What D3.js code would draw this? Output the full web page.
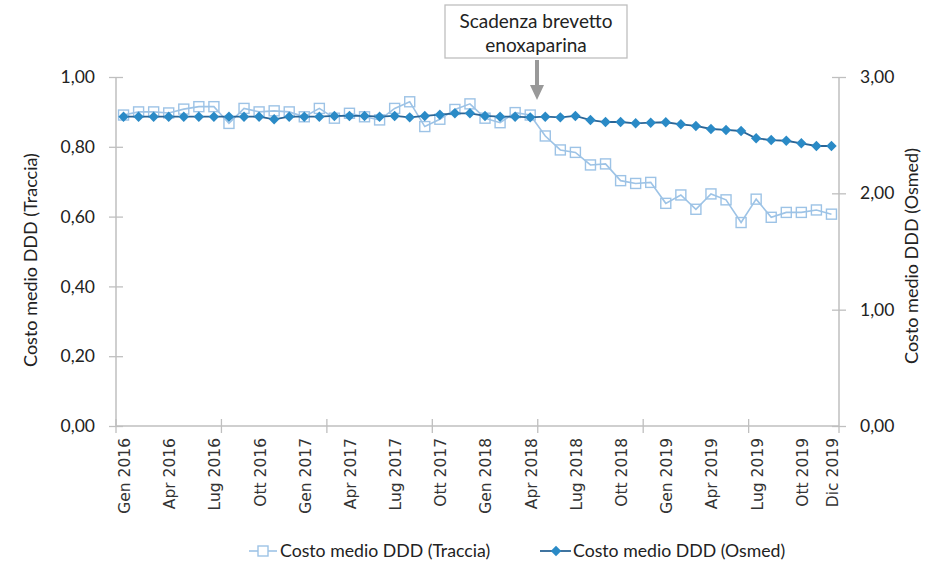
<!DOCTYPE html>
<html>
<head>
<meta charset="utf-8">
<script src="https://cdn.jsdelivr.net/npm/d3@7"></script>
<style>
body{margin:0;background:#fff;}
text{font-family:Lato,"Open Sans",sans-serif;fill:#222;}
</style>
</head>
<body>
<script>
var W=932, H=564;
var mesi=["Gen","Feb","Mar","Apr","Mag","Giu","Lug","Ago","Set","Ott","Nov","Dic"];
var anni=[2016,2017,2018,2019];
var months=[];
anni.forEach(function(a){ mesi.forEach(function(m){ months.push(m+" "+a); }); });
var labelIdx=[0,3,6,9,12,15,18,21,24,27,30,33,36,39,42,45,47];

// costo medio DDD, asse sinistro
var traccia=[0.891,0.900,0.900,0.897,0.908,0.915,0.915,0.867,0.910,0.900,0.903,0.900,
             0.886,0.910,0.882,0.896,0.886,0.877,0.910,0.929,0.858,0.879,0.907,0.923,
             0.882,0.869,0.898,0.891,0.831,0.791,0.784,0.748,0.751,0.703,0.695,0.698,
             0.638,0.662,0.621,0.665,0.648,0.583,0.650,0.598,0.612,0.612,0.619,0.607];
// costo medio DDD, asse destro
var osmed=[2.659,2.659,2.659,2.659,2.659,2.659,2.659,2.659,2.659,2.659,2.636,2.659,
           2.659,2.659,2.665,2.665,2.665,2.659,2.665,2.653,2.665,2.676,2.688,2.688,
           2.665,2.659,2.659,2.653,2.659,2.653,2.665,2.630,2.613,2.613,2.602,2.607,
           2.611,2.593,2.579,2.553,2.545,2.536,2.473,2.458,2.452,2.430,2.407,2.407];
var leftTicks=[0,0.2,0.4,0.6,0.8,1.0];
var rightTicks=[0,1,2,3];

var svg=d3.select("body").append("svg").attr("width",W).attr("height",H);
var x0=116, x1=839, yTop=77, yBot=426;
var x=d3.scaleBand().domain(months).range([x0,x1]).padding(0);
var yL=d3.scaleLinear().domain([0,1]).range([yBot,yTop]);
var yR=d3.scaleLinear().domain([0,3]).range([yBot,yTop]);
var fmt=function(v){ return d3.format(".2f")(v).replace(".",","); };
var axisCol="#bfbfbf";

// asse sinistro
var gl=svg.append("g").attr("transform","translate("+x0+",0)")
  .call(d3.axisLeft(yL).tickValues(leftTicks).tickFormat(fmt).tickSize(7).tickPadding(14));
gl.selectAll(".tick line").attr("x2",-7).attr("x1",7);
// asse destro
var gr=svg.append("g").attr("transform","translate("+x1+",0)")
  .call(d3.axisRight(yR).tickValues(rightTicks).tickFormat(fmt).tickSize(7).tickPadding(14));
gr.selectAll(".tick line").attr("x1",-7).attr("x2",7);
[gl,gr].forEach(function(g){
  g.select(".domain").attr("stroke",axisCol).attr("stroke-width",1.5).attr("d","M0,"+yTop+"V"+yBot);
  g.selectAll(".tick line").attr("stroke",axisCol).attr("stroke-width",1.3);
  g.selectAll(".tick text").style("font-family","Lato").attr("font-size",17.5).attr("fill","#222");
});

// asse x
svg.append("line").attr("x1",x0).attr("x2",x1).attr("y1",yBot).attr("y2",yBot)
  .attr("stroke",axisCol).attr("stroke-width",1.5);
var tickIdx=d3.range(0,48,7);
svg.selectAll(".xt").data(tickIdx).enter().append("line")
  .attr("x1",function(i){return x(months[i]);}).attr("x2",function(i){return x(months[i]);})
  .attr("y1",yBot-7).attr("y2",yBot+7).attr("stroke",axisCol).attr("stroke-width",1.3);
svg.append("line").attr("x1",x1).attr("x2",x1).attr("y1",yBot).attr("y2",yBot+7)
  .attr("stroke",axisCol).attr("stroke-width",1.3);
svg.selectAll(".xl").data(labelIdx).enter().append("text")
  .attr("transform",function(i){ return "translate("+(x(months[i])+x.bandwidth()/2+1)+","+(yBot+12)+") rotate(-90)"; })
  .attr("text-anchor","end").attr("dy","0.35em")
  .style("font-family","'DejaVu Sans'").attr("font-size",15.5).style("fill","#333")
  .text(function(i){ return months[i]; });

// titoli assi
svg.append("text").attr("transform","translate(37,260) rotate(-90)").attr("text-anchor","middle")
  .attr("font-size",18).text("Costo medio DDD (Traccia)");
svg.append("text").attr("transform","translate(918,256) rotate(-90)").attr("text-anchor","middle")
  .attr("font-size",18).text("Costo medio DDD (Osmed)");

var cx=function(d,i){ return x(months[i])+x.bandwidth()/2; };
var lightCol="#9dc3e6", darkLine="#2b6596", dotCol="#2a8ac6";

// serie Traccia
svg.append("path").datum(traccia).attr("fill","none").attr("stroke",lightCol).attr("stroke-width",1.6)
  .attr("d",d3.line().x(cx).y(function(d){return yL(d);}));
svg.selectAll(".sq").data(traccia).enter().append("rect")
  .attr("x",function(d,i){return cx(d,i)-5;}).attr("y",function(d){return yL(d)-5;})
  .attr("width",10).attr("height",10).attr("fill","none").attr("stroke",lightCol).attr("stroke-width",1.4);

// serie Osmed
var diamond=d3.symbol().type(d3.symbolDiamond2).size(70);
svg.append("path").datum(osmed).attr("fill","none").attr("stroke",darkLine).attr("stroke-width",1.8)
  .attr("d",d3.line().x(cx).y(function(d){return yR(d);}));
svg.selectAll(".dm").data(osmed).enter().append("path")
  .attr("d",diamond).attr("transform",function(d,i){return "translate("+cx(d,i)+","+yR(d)+")";})
  .attr("fill",dotCol);

// annotazione
svg.append("rect").attr("x",445).attr("y",5).attr("width",182).attr("height",53)
  .attr("fill","#fff").attr("stroke","#bfbfbf").attr("stroke-width",1.3);
svg.append("text").attr("x",536).attr("y",28).attr("text-anchor","middle").attr("font-size",19).text("Scadenza brevetto");
svg.append("text").attr("x",536).attr("y",52).attr("text-anchor","middle").attr("font-size",19).text("enoxaparina");
svg.append("rect").attr("x",535).attr("y",60).attr("width",4).attr("height",26).attr("fill","#999");
svg.append("path").attr("d","M530,85 L544,85 L537,100 Z").attr("fill","#999");

// legenda
var lg=svg.append("g");
lg.append("line").attr("x1",249).attr("x2",277).attr("y1",551).attr("y2",551).attr("stroke",lightCol).attr("stroke-width",1.6);
lg.append("rect").attr("x",258).attr("y",546).attr("width",10).attr("height",10).attr("fill","#fff").attr("stroke",lightCol).attr("stroke-width",1.4);
lg.append("text").attr("x",280).attr("y",557).attr("font-size",17.7).text("Costo medio DDD (Traccia)");
lg.append("line").attr("x1",540).attr("x2",571).attr("y1",551).attr("y2",551).attr("stroke",darkLine).attr("stroke-width",1.8);
lg.append("path").attr("d",diamond).attr("transform","translate(556,551)").attr("fill",dotCol);
lg.append("text").attr("x",573).attr("y",557).attr("font-size",17.7).text("Costo medio DDD (Osmed)");
</script>
</body>
</html>
